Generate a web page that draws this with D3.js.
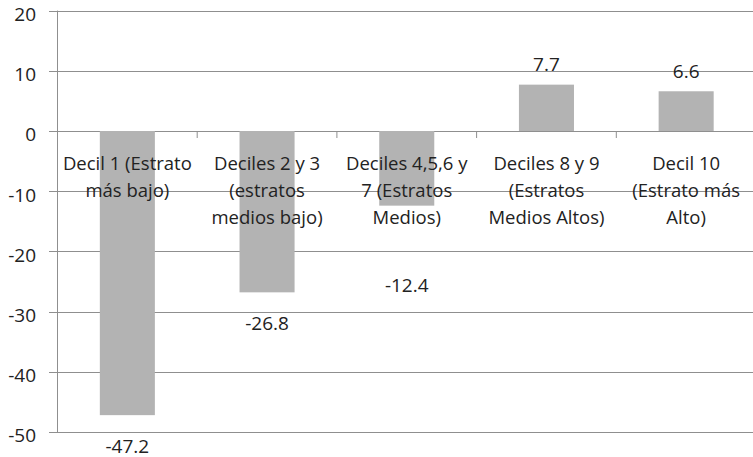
<!DOCTYPE html>
<html><head><meta charset="utf-8">
<script src="https://cdn.jsdelivr.net/npm/d3@7"></script>
<style>body{margin:0;background:#fff;} text{font-family:"Open Sans",sans-serif;fill:#222;}</style>
</head><body>
<svg id="c" width="753" height="457"></svg>
<script>
const categories = [
  ["Decil 1 (Estrato","más bajo)"],
  ["Deciles 2 y 3","(estratos","medios bajo)"],
  ["Deciles 4,5,6 y","7 (Estratos","Medios)"],
  ["Deciles 8 y 9","(Estratos","Medios Altos)"],
  ["Decil 10","(Estrato más","Alto)"]
];
const values = [-47.2, -26.8, -12.4, 7.7, 6.6];
const labelAt = [-47.2, -26.8, -20.4, 7.7, 6.6];
const yTicks = [-50, -40, -30, -20, -10, 0, 10, 20];

const svg = d3.select("#c");
const x = d3.scaleBand().domain(d3.range(values.length)).range([57.5, 756]).paddingInner(0).paddingOuter(0);
const y = d3.scaleLinear().domain([-50, 20]).range([432, 10.6]);
const bw = x.bandwidth() * 0.394;

// gridlines
svg.append("g").selectAll("line").data(yTicks).join("line")
  .attr("x1", 49).attr("x2", 753)
  .attr("y1", d => Math.round(y(d)) + 0.5).attr("y2", d => Math.round(y(d)) + 0.5)
  .attr("stroke", "#8f8f8f").attr("stroke-width", 1);

// bars
svg.append("g").selectAll("rect").data(values).join("rect")
  .attr("x", (d, i) => x(i) + (x.bandwidth() - bw) / 2)
  .attr("width", bw)
  .attr("y", d => y(Math.max(0, d)))
  .attr("height", d => Math.abs(y(d) - y(0)))
  .attr("fill", "#b3b3b3");

// y axis line
svg.append("line").attr("x1", 57.5).attr("x2", 57.5).attr("y1", y(20)).attr("y2", y(-50) + 0.5)
  .attr("stroke", "#8f8f8f");
// category ticks
svg.append("g").selectAll("line").data(d3.range(values.length + 1)).join("line")
  .attr("x1", d => 57.5 + d * x.step()).attr("x2", d => 57.5 + d * x.step())
  .attr("y1", Math.round(y(0))).attr("y2", Math.round(y(0)) + 7)
  .attr("stroke", "#8f8f8f");

// y tick labels
svg.append("g").selectAll("text").data(yTicks).join("text")
  .attr("x", 36).attr("y", d => y(d) + 3.5).attr("dy", "0.36em")
  .attr("text-anchor", "end").attr("font-size", 19).text(d => d);

// category labels
const cl = svg.append("g").selectAll("text").data(categories).join("text")
  .attr("text-anchor", "middle").attr("font-size", 18.5)
  .attr("x", (d, i) => x(i) + x.bandwidth() / 2);
cl.selectAll("tspan").data(d => d).join("tspan")
  .attr("x", function() { return d3.select(this.parentNode).attr("x"); })
  .attr("y", (d, j) => 163 + j * 27).attr("dy", "0.36em").text(d => d);

// value labels
svg.append("g").selectAll("text").data(values).join("text")
  .attr("text-anchor", "middle").attr("font-size", 19)
  .attr("x", (d, i) => x(i) + x.bandwidth() / 2)
  .attr("y", (d, i) => labelAt[i] >= 0 ? y(labelAt[i]) - 20 : y(labelAt[i]) + 31)
  .attr("dy", "0.36em")
  .text(d => d.toFixed(1));
</script>
</body></html>
